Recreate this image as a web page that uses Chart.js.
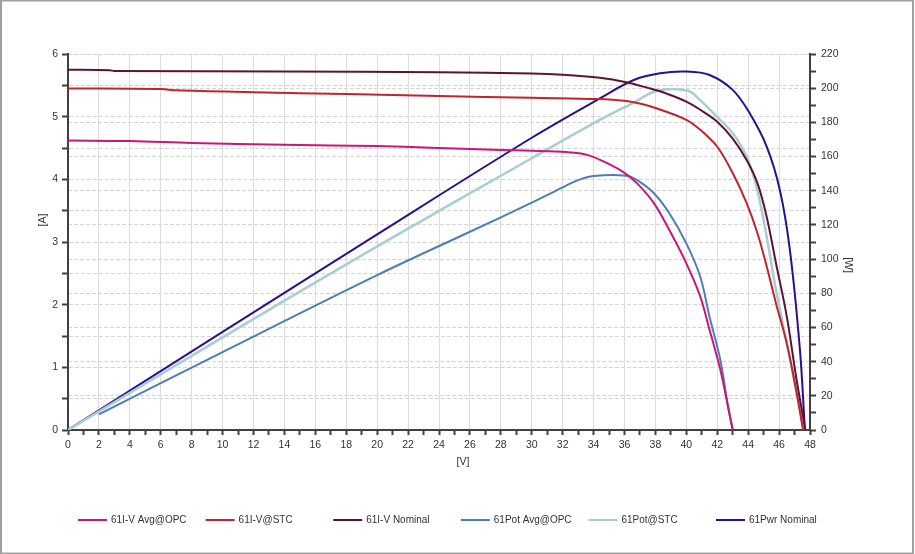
<!DOCTYPE html>
<html>

<head>
  <title>61 I-V and power curves</title>
  <meta charset="UTF-8">
  <script src="https://cdn.jsdelivr.net/npm/chart.js@4.4.1/dist/chart.umd.min.js"></script>
  <style>
    body { margin: 0; background: #fff; }
  </style>
</head>

<body>
  <canvas id="myChart" width="915" height="554"></canvas>
  <script>
    // values: voltage [V], current [A], power [W]
    var ivAvgV = [0, 4, 8, 14, 20, 24, 28, 31, 32.5, 33.6, 34.6, 35.9, 36.8, 37.9, 38.9, 40.0, 40.9, 41.5, 42.2, 42.7, 43.0];
    var ivAvgA = [4.62, 4.61, 4.58, 4.55, 4.53, 4.50, 4.47, 4.45, 4.43, 4.39, 4.29, 4.12, 3.94, 3.62, 3.19, 2.66, 2.13, 1.60, 0.96, 0.37, 0];

    var ivStcV = [0, 6, 7, 12, 18, 24, 30, 34.4, 36.6, 38.1, 40.0, 40.9, 42.0, 43.0, 43.9, 44.6, 45.2, 45.8, 46.5, 47.1, 47.55];
    var ivStcA = [5.45, 5.44, 5.42, 5.39, 5.36, 5.33, 5.30, 5.28, 5.23, 5.13, 4.95, 4.79, 4.52, 4.10, 3.62, 3.14, 2.61, 2.02, 1.38, 0.64, 0];

    var ivNomV = [0, 2.7, 3, 14, 24, 30, 32, 34.4, 36.1, 37.5, 38.7, 40.0, 40.9, 42.0, 43.0, 43.9, 44.6, 45.2, 45.8, 46.5, 47.1, 47.7];
    var ivNomA = [5.75, 5.74, 5.73, 5.72, 5.71, 5.69, 5.67, 5.62, 5.55, 5.46, 5.37, 5.24, 5.11, 4.92, 4.65, 4.31, 3.94, 3.40, 2.66, 1.81, 0.85, 0];

    var potAvgV = [2, 10, 20, 26, 30, 32, 33, 34, 36.1, 36.8, 37.9, 38.9, 40.0, 40.9, 41.5, 42.2, 42.7, 43.0];
    var potAvgW = [9.2, 45.6, 90.6, 116, 133, 142, 146.2, 148.6, 148.8, 146.3, 138.5, 126.8, 109.2, 89.7, 66.3, 41, 13.6, 0];

    var potStcV = [0, 10, 20, 30, 34.4, 36.6, 38.1, 40.1, 40.9, 42.0, 43.0, 43.9, 44.6, 45.2, 45.8, 46.5, 47.1, 47.6];
    var potStcW = [0, 54.2, 107.4, 159, 181.4, 191.6, 198.5, 198.5, 193, 183, 173.6, 160, 140, 113, 82, 50.7, 23.4, 0];

    var pwrNomV = [0, 10, 20, 30, 34.4, 36.6, 38.3, 40.0, 41.5, 43.0, 44.1, 45.2, 46.05, 46.7, 47.35, 47.67];
    var pwrNomW = [0, 57.4, 114.5, 171, 194, 204.8, 208.7, 209.7, 207.7, 199, 185.3, 165.8, 140.4, 105.3, 46.8, 0];

    function pts(xs, ys) {
      return xs.map(function(x, i) { return { x: x, y: ys[i] }; });
    }

    function line(label, color, xs, ys, axis, width) {
      return {
        label: label,
        data: pts(xs, ys),
        yAxisID: axis,
        borderColor: color,
        backgroundColor: color,
        borderWidth: width || 2,
        pointRadius: 0,
        tension: 0.35,
        fill: false
      };
    }

    var FONT = '"Liberation Sans", Arial, sans-serif';
    Chart.defaults.font.family = FONT;
    Chart.defaults.font.size = 10.5;
    Chart.defaults.color = '#333';

    var GRID = '#d6d6d6';
    var AXIS = '#404040';
    var NONE = 'rgba(0,0,0,0)';

    // titles, legend and frame drawn by hand
    var extras = {
      id: 'extras',
      beforeDraw: function(chart) {
        var ctx = chart.ctx;
        ctx.save();
        ctx.fillStyle = '#fff';
        ctx.fillRect(0, 0, chart.width, chart.height);
        ctx.restore();
      },
      afterDraw: function(chart) {
        var ctx = chart.ctx;
        ctx.save();
        ctx.fillStyle = '#333';
        ctx.font = '10.5px ' + FONT;
        ctx.textAlign = 'center';
        ctx.textBaseline = 'middle';
        ctx.fillText('[V]', 463, 462);

        ctx.save();
        ctx.translate(43, 220);
        ctx.rotate(-Math.PI / 2);
        ctx.fillText('[A]', 0, 0);
        ctx.restore();

        ctx.save();
        ctx.translate(848, 265);
        ctx.rotate(Math.PI / 2);
        ctx.fillText('[W]', 0, 0);
        ctx.restore();

        ctx.font = '10px ' + FONT;
        ctx.textAlign = 'left';
        chart.data.datasets.forEach(function(ds, i) {
          var x = 78 + i * 127.6;
          ctx.strokeStyle = ds.borderColor;
          ctx.lineWidth = 2;
          ctx.beginPath();
          ctx.moveTo(x, 520);
          ctx.lineTo(x + 29, 520);
          ctx.stroke();
          ctx.fillText(ds.label, x + 33, 520);
        });

        ctx.strokeStyle = '#a0a0a0';
        ctx.lineWidth = 2;
        ctx.strokeRect(1, 0.5, 912, 553);
        ctx.restore();
      }
    };

    var ctx = document.getElementById('myChart').getContext('2d');
    var chart = new Chart(ctx, {
      type: 'line',
      data: {
        datasets: [
          line('61I-V Avg@OPC', '#c8177a', ivAvgV, ivAvgA, 'y'),
          line('61I-V@STC', '#c0242c', ivStcV, ivStcA, 'y'),
          line('61I-V Nominal', '#5c1432', ivNomV, ivNomA, 'y'),
          line('61Pot Avg@OPC', '#4f7db5', potAvgV, potAvgW, 'y1'),
          line('61Pot@STC', '#a8cdd3', potStcV, potStcW, 'y1', 2.5),
          line('61Pwr Nominal', '#2b0f8c', pwrNomV, pwrNomW, 'y1')
        ]
      },
      plugins: [extras],
      options: {
        responsive: false,
        animation: false,
        layout: { padding: { top: 54, left: 0, right: 0, bottom: 84 } },
        plugins: {
          legend: { display: false },
          tooltip: { enabled: false }
        },
        scales: {
          x: {
            type: 'linear',
            min: 0,
            max: 48,
            afterFit: function(s) { s.height = 40; },
            ticks: {
              stepSize: 1,
              autoSkip: false,
              maxRotation: 0,
              padding: 4,
              callback: function(v) { return v % 2 === 0 ? v : ''; }
            },
            grid: {
              color: function(c) { return c.tick && c.tick.value % 2 === 0 ? '#dcdcdc' : NONE; },
              tickColor: AXIS,
              tickWidth: 2,
              tickLength: 5
            },
            border: { color: AXIS, width: 2 }
          },
          y: {
            position: 'left',
            min: 0,
            max: 6,
            afterFit: function(s) { s.width = 68; },
            ticks: {
              stepSize: 0.5,
              padding: 4,
              callback: function(v) { return Number.isInteger(v) ? v : ''; }
            },
            grid: {
              color: GRID,
              tickColor: AXIS,
              tickWidth: 2,
              tickLength: 6
            },
            border: { color: AXIS, width: 2, dash: [4, 2] }
          },
          y1: {
            position: 'right',
            min: 0,
            max: 220,
            afterFit: function(s) { s.width = 105; },
            ticks: {
              stepSize: 10,
              padding: 5,
              callback: function(v) { return v % 20 === 0 ? v : ''; }
            },
            grid: {
              color: function(c) { return c.tick && c.tick.value % 20 === 0 ? GRID : NONE; },
              tickColor: AXIS,
              tickWidth: 2,
              tickLength: 6
            },
            border: { color: AXIS, width: 2, dash: [4, 2] }
          }
        }
      }
    });
  </script>
</body>

</html>
